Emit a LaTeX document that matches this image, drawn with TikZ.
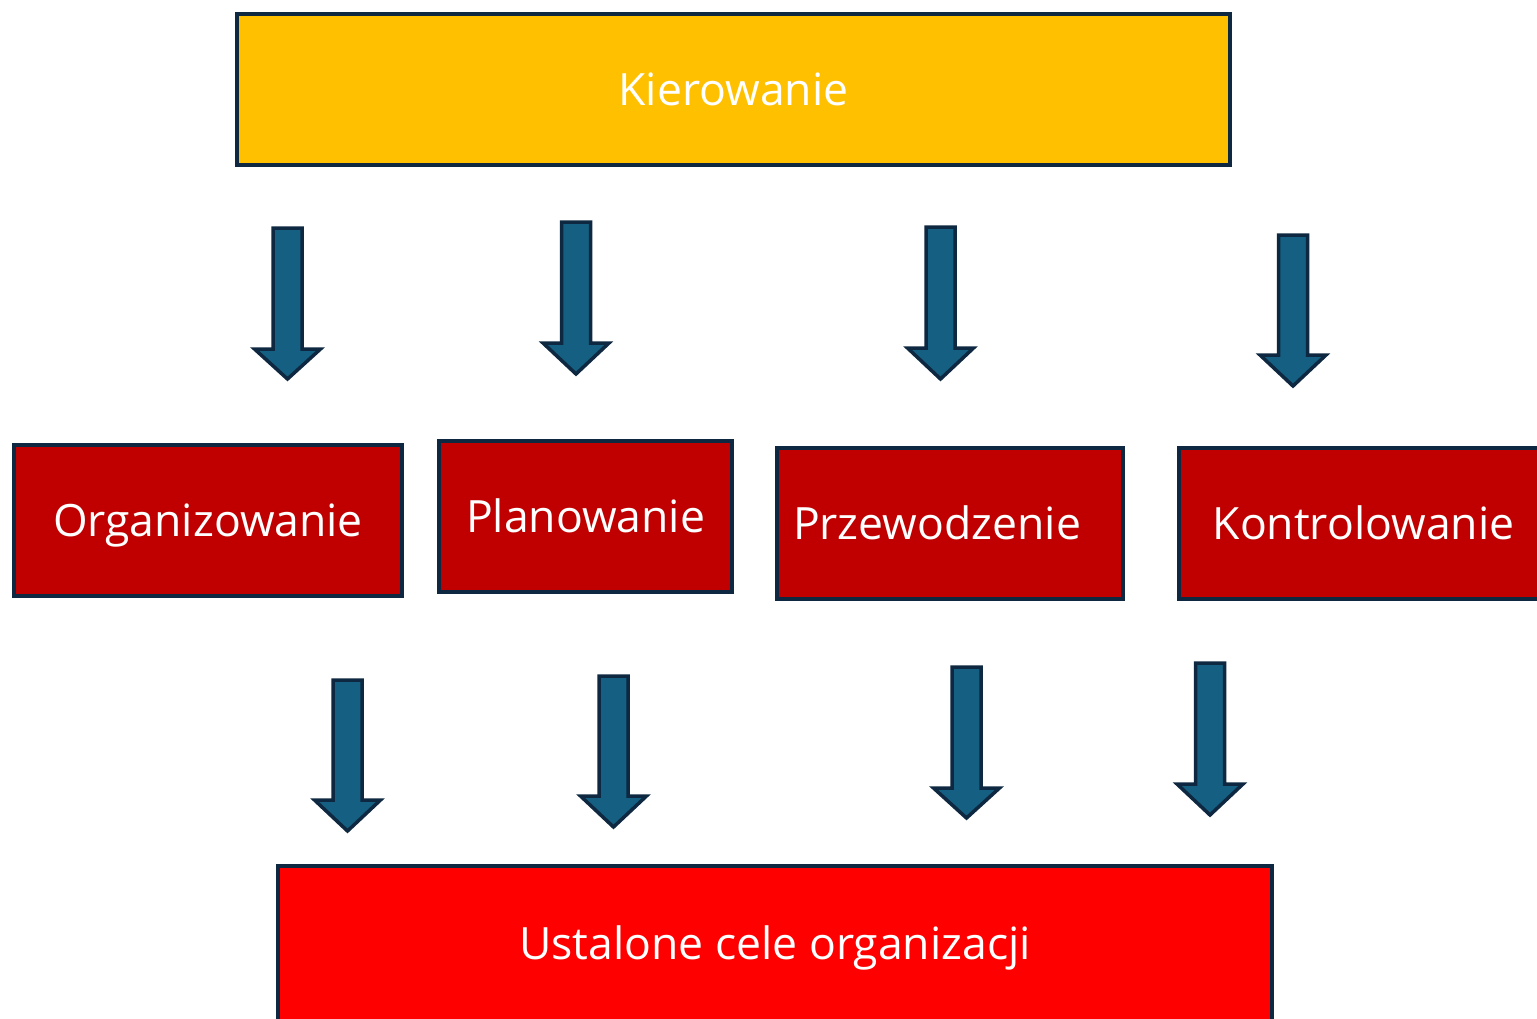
\documentclass[tikz,border=0pt]{standalone}
\usepackage{fontspec}
\setmainfont{Open Sans}
\definecolor{edge}{HTML}{0E2841}
\definecolor{gold}{HTML}{FFC000}
\definecolor{dred}{HTML}{C00000}
\definecolor{bred}{HTML}{FF0000}
\definecolor{ablue}{HTML}{156082}
\newcommand{\blockarrowdown}[4]{%
  \draw[arrowshape] (#1-14.5,#2+2) -- (#1+14.5,#2+2) -- (#1+14.5,#3) -- (#1+33,#3) -- (#1,#4-3) -- (#1-33,#3) -- (#1-14.5,#3) -- cycle;}
\begin{document}
\begin{tikzpicture}[x=1pt,y=-1pt,
  lbl/.style={text=white, inner sep=0pt, font=\fontsize{44.5}{52}\selectfont, text height=31.8pt, text depth=0pt},
  box/.style={lbl, draw=edge, line width=4pt},
  arrowshape/.style={draw=edge, line width=3.5pt, fill=ablue, line join=miter}]
\useasboundingbox (0,0) rectangle (1537,1018);
\clip (0,0) rectangle (1537,1018);
\node[box, fill=gold, minimum width=993pt, minimum height=151pt] (kier) at (733.5,89.5) {Kierowanie};
\node[box, fill=dred, minimum width=388pt, minimum height=151pt] (org) at (208,520.5) {Organizowanie};
\node[box, fill=dred, minimum width=293pt, minimum height=151pt] (plan) at (585.5,516.5) {Planowanie};
\node[box, fill=dred, minimum width=346pt, minimum height=151pt] (prz) at (950,523.5) {};
\node[lbl] (przt) at (937,523.5) {Przewodzenie};
\node[box, fill=dred, minimum width=380pt, minimum height=151pt] (kon) at (1369,523.5) {};
\node[lbl] (kont) at (1363.5,523.5) {Kontrolowanie};
\node[box, fill=bred, minimum width=994pt, minimum height=156pt] (cel) at (775,944) {Ustalone cele organizacji};
\blockarrowdown{287.5}{226}{349}{382}
\blockarrowdown{576}{220}{343}{377}
\blockarrowdown{940.5}{225}{348}{382}
\blockarrowdown{1293}{233}{355}{389}
\blockarrowdown{347.5}{678}{800}{834}
\blockarrowdown{613.5}{674}{796}{830}
\blockarrowdown{966.5}{665}{788}{821}
\blockarrowdown{1210}{661}{784}{818}
\end{tikzpicture}
\end{document}
